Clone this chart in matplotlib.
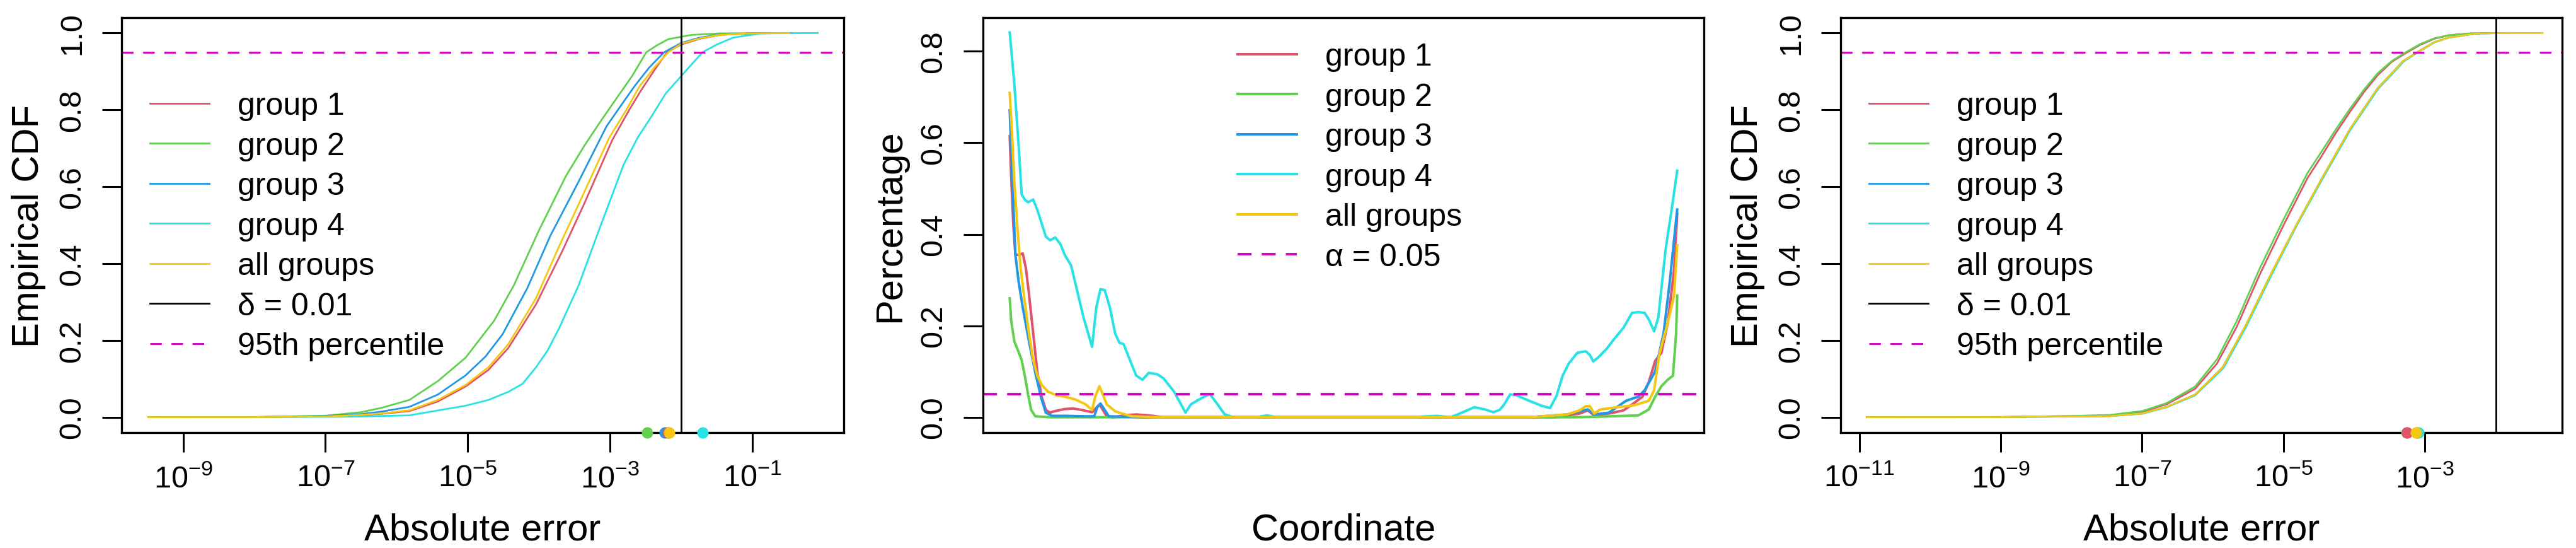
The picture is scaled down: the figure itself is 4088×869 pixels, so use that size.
import numpy as np
import matplotlib
matplotlib.use("Agg")
import matplotlib.pyplot as plt

plt.rcParams['font.family'] = ['Liberation Sans', 'DejaVu Sans']
plt.rcParams['mathtext.default'] = 'regular'

# colours (R default palette)
col_g1 = '#DF536B'
col_g2 = '#61D04F'
col_g3 = '#2297E6'
col_g4 = '#28E2E5'
col_all = '#F5C710'
col_ref = '#CD0BBC'

labels = ['group 1', 'group 2', 'group 3', 'group 4', 'all groups']

# ---------------- panel 1: ECDF of absolute error (log10 x) ----------------
p1_g1_x = [-9.49, -8.0, -7.0, -6.5, -6.2, -5.82, -5.42, -5.03, -4.71, -4.43, -4.04, -3.68, -3.36, -2.97,
           -2.73, -2.57, -2.37, -2.20, -2.0, -1.74, -1.46, -1.07, -0.44]
p1_g1_y = [0, 0.0002, 0.002, 0.005, 0.009, 0.016, 0.041, 0.080, 0.123, 0.180, 0.294, 0.429, 0.557, 0.721,
           0.80, 0.849, 0.905, 0.95, 0.97, 0.985, 0.995, 0.999, 1.0]
p1_g2_x = [-9.49, -8.0, -7.0, -6.5, -6.2, -5.82, -5.42, -5.03, -4.63, -4.35, -4.0, -3.62, -3.36, -3.13,
           -2.89, -2.69, -2.49, -2.34, -2.18, -1.86, -1.46, -0.7]
p1_g2_y = [0, 0.0005, 0.004, 0.013, 0.025, 0.045, 0.094, 0.155, 0.251, 0.344, 0.486, 0.628, 0.707, 0.771,
           0.835, 0.888, 0.95, 0.968, 0.984, 0.995, 0.999, 1.0]
p1_g3_x = [-9.49, -8.0, -7.0, -6.5, -6.2, -5.82, -5.42, -5.03, -4.75, -4.51, -4.16, -3.84, -3.44, -3.05,
           -2.81, -2.65, -2.45, -2.24, -2.0, -1.74, -1.46, -0.87, -0.6]
p1_g3_y = [0, 0.0003, 0.003, 0.008, 0.015, 0.027, 0.059, 0.109, 0.158, 0.216, 0.337, 0.472, 0.614, 0.757,
           0.821, 0.863, 0.91, 0.95, 0.974, 0.988, 0.996, 0.9995, 1.0]
p1_g4_x = [-9.49, -8.0, -7.0, -6.5, -6.0, -5.82, -5.03, -4.71, -4.43, -4.23, -4.04, -3.88, -3.72, -3.44,
           -3.13, -2.81, -2.61, -2.41, -2.22, -2.0, -1.86, -1.70, -1.50, -1.27, -0.87, -0.08]
p1_g4_y = [0, 0.0001, 0.001, 0.002, 0.004, 0.005, 0.03, 0.045, 0.066, 0.087, 0.13, 0.173, 0.23, 0.344,
           0.5, 0.657, 0.728, 0.785, 0.842, 0.888, 0.917, 0.95, 0.97, 0.988, 0.999, 1.0]
p1_all_x = [-9.49, -8.0, -7.0, -6.5, -6.2, -5.82, -5.42, -5.03, -4.71, -4.43, -4.04, -3.72, -3.40, -3.01,
            -2.77, -2.59, -2.38, -2.18, -2.0, -1.74, -1.46, -1.07, -0.48]
p1_all_y = [0, 0.0002, 0.002, 0.006, 0.01, 0.018, 0.045, 0.084, 0.13, 0.19, 0.31, 0.443, 0.571, 0.728,
            0.80, 0.86, 0.91, 0.95, 0.972, 0.986, 0.995, 0.999, 1.0]
# 95th percentiles (log10), in drawing order green, blue, red, cyan, yellow
p1_q95 = [-2.48, -2.23, -2.19, -1.70, -2.165]

# ---------------- panel 2: percentage by coordinate ----------------
p2_g1_x = [0, 2.2, 5.3, 8.5, 13.2, 19.5, 24.2, 28.9, 35.2, 41.5, 47.8, 54.1, 60.4, 66.7, 82.4, 95, 107.6,
           123.4, 128, 134.4, 140, 145.4, 155, 177, 190, 208, 230, 780, 815.9, 834.8, 853.6, 866.2, 875.6,
           897.6, 919.7, 935.4, 948.1, 957.5, 967, 976.4, 985.8, 995.3, 1000]
p2_g1_y = [0.614, 0.528, 0.424, 0.355, 0.355, 0.358, 0.326, 0.269, 0.183, 0.097, 0.045, 0.016, 0.010, 0.013,
           0.018, 0.019, 0.016, 0.011, 0.018, 0.028, 0.015, 0.002, 0.0, 0.005, 0.006, 0.004, 0.0, 0.0, 0.0,
           0.004, 0.008, 0.015, 0.004, 0.008, 0.015, 0.031, 0.045, 0.077, 0.123, 0.141, 0.206, 0.321, 0.445]
p2_g2_x = [0, 2.2, 6.9, 13.2, 17.9, 22.6, 27.4, 32.1, 38.4, 60, 847, 878.6, 941.7, 957.5, 967, 976.4,
           985.8, 993.7, 998.4, 1000]
p2_g2_y = [0.260, 0.211, 0.166, 0.143, 0.125, 0.091, 0.051, 0.016, 0.002, 0.0, 0.0, 0.001, 0.004, 0.017,
           0.045, 0.068, 0.082, 0.091, 0.183, 0.266]
p2_g3_x = [0, 3.7, 8.5, 13.2, 19.5, 28.9, 38.4, 47.8, 54.1, 63.5, 82.4, 113.9, 126.5, 131.2, 136, 142.3,
           148.6, 200, 780, 834.8, 853.6, 866.2, 875.6, 897.6, 923.5, 941.7, 951.2, 967, 979.6, 989, 1000]
p2_g3_y = [0.671, 0.528, 0.355, 0.298, 0.240, 0.166, 0.097, 0.039, 0.010, 0.003, 0.003, 0.002, 0.002, 0.022,
           0.030, 0.016, 0.002, 0.0, 0.0, 0.006, 0.013, 0.017, 0.006, 0.010, 0.036, 0.045, 0.059, 0.100,
           0.183, 0.298, 0.454]
p2_g4_x = [0, 6.9, 13.2, 17.9, 22.6, 27.4, 35.2, 41.5, 54.1, 60.4, 68.3, 76.1, 82.4, 91.9, 101.3, 110.8,
           123.4, 129.7, 136, 142.3, 150.1, 158, 164.3, 170.6, 180.1, 189.5, 198.9, 208.3, 221, 230.4, 246.2,
           263.4, 271.3, 283.9, 299.6, 309, 321.7, 334.3, 370, 385, 400, 420, 600, 640, 660, 674.2, 696.2,
           712, 724.6, 734, 740.3, 749.8, 759.2, 778.1, 797, 809.5, 819, 828.4, 837.9, 850.4, 863.1, 869.3,
           874.1, 882, 894.5, 904, 919.7, 932.3, 941.7, 951.2, 957.5, 965.4, 971.7, 982.7, 992.2, 1000]
p2_g4_y = [0.841, 0.729, 0.597, 0.487, 0.476, 0.470, 0.476, 0.453, 0.395, 0.387, 0.393, 0.378, 0.355, 0.332,
           0.275, 0.217, 0.154, 0.240, 0.280, 0.278, 0.240, 0.183, 0.163, 0.160, 0.125, 0.091, 0.082, 0.097,
           0.094, 0.085, 0.056, 0.010, 0.028, 0.039, 0.051, 0.033, 0.007, 0.0, 0.0, 0.004, 0.0, 0.0, 0.0,
           0.003, 0.0, 0.008, 0.022, 0.017, 0.011, 0.016, 0.027, 0.05, 0.048, 0.036, 0.025, 0.02, 0.046,
           0.091, 0.118, 0.141, 0.144, 0.136, 0.122, 0.131, 0.150, 0.168, 0.196, 0.228, 0.23, 0.228, 0.214,
           0.188, 0.218, 0.367, 0.459, 0.539]
p2_all_x = [0, 3.7, 6.9, 11.6, 16.3, 22.6, 28.9, 35.2, 41.5, 47.8, 57.2, 69.8, 82.4, 98.1, 113.9, 123.4,
            128.1, 134.4, 139.1, 145.4, 158, 170.6, 183.2, 220, 780, 834.8, 853.6, 863.1, 869.3, 875.6,
            884.9, 910.3, 935.4, 957.5, 965.4, 973.3, 985.8, 995.3, 1000]
p2_all_y = [0.709, 0.614, 0.516, 0.413, 0.326, 0.252, 0.183, 0.125, 0.091, 0.071, 0.056, 0.048, 0.045, 0.039,
            0.028, 0.016, 0.045, 0.068, 0.051, 0.028, 0.013, 0.007, 0.002, 0.0, 0.0, 0.006, 0.015, 0.024,
            0.024, 0.008, 0.017, 0.022, 0.026, 0.036, 0.059, 0.138, 0.206, 0.266, 0.376]

# ---------------- panel 3: ECDF of absolute error (log10 x) ----------------
p3_g1_x = [-10.89, -9.0, -8.0, -7.45, -7.0, -6.65, -6.25, -5.94, -5.66, -5.34, -5.0, -4.66, -4.46, -4.26,
           -4.06, -3.86, -3.67, -3.47, -3.25, -3.07, -2.87, -2.67, -2.35, -1.8]
p3_g1_y = [0, 0.0005, 0.003, 0.005, 0.014, 0.034, 0.074, 0.14, 0.236, 0.37, 0.5, 0.623, 0.68, 0.74,
           0.795, 0.847, 0.89, 0.925, 0.95, 0.969, 0.985, 0.994, 0.999, 1.0]
p3_g2_x = [-10.89, -9.0, -8.0, -7.45, -7.0, -6.65, -6.25, -5.94, -5.66, -5.34, -5.0, -4.66, -4.46, -4.26,
           -4.06, -3.86, -3.67, -3.47, -3.27, -3.07, -2.87, -2.67, -2.35, -1.87]
p3_g2_y = [0, 0.0005, 0.003, 0.006, 0.016, 0.037, 0.08, 0.151, 0.251, 0.386, 0.515, 0.636, 0.692, 0.749,
           0.803, 0.853, 0.895, 0.927, 0.95, 0.971, 0.986, 0.994, 0.999, 1.0]
p3_g3_x = [-10.89, -9.0, -8.0, -7.45, -7.0, -6.65, -6.25, -5.86, -5.54, -5.18, -4.82, -4.46, -4.06, -3.67,
           -3.47, -3.31, -3.11, -2.87, -2.67, -2.27, -1.87]
p3_g3_y = [0, 0.0003, 0.002, 0.003, 0.01, 0.027, 0.059, 0.13, 0.237, 0.372, 0.5, 0.621, 0.75, 0.856,
           0.895, 0.927, 0.95, 0.976, 0.988, 0.999, 1.0]
p3_g4_x = [-10.89, -9.0, -8.0, -7.45, -7.0, -6.65, -6.25, -5.85, -5.53, -5.17, -4.81, -4.45, -4.05, -3.66,
           -3.46, -3.30, -3.10, -2.86, -2.66, -2.26, -1.8]
p3_g4_y = [0, 0.0003, 0.002, 0.003, 0.009, 0.026, 0.057, 0.128, 0.235, 0.37, 0.5, 0.62, 0.749, 0.855,
           0.894, 0.926, 0.95, 0.976, 0.988, 0.999, 1.0]
p3_all_x = [-10.89, -9.0, -8.0, -7.45, -7.0, -6.65, -6.25, -5.86, -5.54, -5.18, -4.82, -4.46, -4.06, -3.67,
            -3.47, -3.31, -3.11, -2.87, -2.67, -2.27, -1.87, -1.335]
p3_all_y = [0, 0.0003, 0.002, 0.003, 0.01, 0.027, 0.059, 0.13, 0.237, 0.372, 0.5, 0.621, 0.75, 0.856,
            0.895, 0.927, 0.95, 0.976, 0.988, 0.999, 0.9999, 1.0]
# order green, blue, red, cyan, yellow
p3_q95 = [-3.26, -3.12, -3.25, -3.09, -3.13]

delta = 0.01
pct = 0.95
alpha_level = 0.05

W, H = 4088, 870
fig = plt.figure(figsize=(W / 100, H / 100), dpi=100)


def rect(l, r, top=29, bot=687):
    return [l / W, (H - bot) / H, (r - l) / W, (bot - top) / H]


ax1 = fig.add_axes(rect(193, 1339))
ax2 = fig.add_axes(rect(1560, 2704))
ax3 = fig.add_axes(rect(2921, 4066))

tick_fs = 35
lab_fs = 43
leg_fs = 36


def style_axes(ax):
    for s in ax.spines.values():
        s.set_linewidth(2.4)
    ax.tick_params(axis='both', direction='out', length=22, width=2.2, labelsize=tick_fs)
    ax.tick_params(axis='y', pad=18, labelrotation=90)
    ax.tick_params(axis='x', pad=14)
    for lab in ax.get_yticklabels():
        lab.set_va('center')
    ax.xaxis.set_label_coords(0.5, -(857 - 687) / 658)
    ax.xaxis.label.set_va('baseline')
    ax.yaxis.set_label_coords(-120 / 1146, 0.5)


def ecdf_panel(ax, curves, q95, xlim, xticks):
    cols = [col_g1, col_g2, col_g3, col_g4, col_all]
    for (xs, ys), c, lb in zip(curves, cols, labels):
        ax.plot(10 ** np.array(xs), ys, color=c, lw=2.0, label=lb)
    ax.axvline(delta, color='black', lw=2.0, label='δ = 0.01')
    ax.axhline(pct, color=col_ref, lw=2.2, ls=(0, (6, 5)), label='95th percentile')
    dot_cols = [col_g2, col_g3, col_g1, col_g4, col_all]
    for q, c in zip(q95, dot_cols):
        ax.plot([10 ** q], [-0.04], 'o', color=c, ms=13, mec='none', clip_on=False, zorder=5)
    ax.set_xscale('log')
    ax.set_xlim(10 ** xlim[0], 10 ** xlim[1])
    ax.set_ylim(-0.04, 1.04)
    ax.set_xticks([10.0 ** e for e in xticks], [r'$10^{%d}$' % e for e in xticks])
    ax.minorticks_off()
    ax.set_yticks([0, 0.2, 0.4, 0.6, 0.8, 1.0], ['0.0', '0.2', '0.4', '0.6', '0.8', '1.0'])
    ax.set_xlabel('Absolute error', fontsize=lab_fs)
    ax.set_ylabel('Empirical CDF', fontsize=lab_fs)
    style_axes(ax)
    ax.legend(loc='upper left', bbox_to_anchor=(45 / 1146, 0.822), borderaxespad=0, borderpad=0,
              frameon=False, fontsize=leg_fs, handlelength=1.88, handletextpad=0.9, labelspacing=0.35)


ecdf_panel(ax1,
           [(p1_g1_x, p1_g1_y), (p1_g2_x, p1_g2_y), (p1_g3_x, p1_g3_y), (p1_g4_x, p1_g4_y), (p1_all_x, p1_all_y)],
           p1_q95, (-9.865, 0.285), [-9, -7, -5, -3, -1])
ecdf_panel(ax3,
           [(p3_g1_x, p3_g1_y), (p3_g2_x, p3_g2_y), (p3_g3_x, p3_g3_y), (p3_g4_x, p3_g4_y), (p3_all_x, p3_all_y)],
           p3_q95, (-11.264, -1.06), [-11, -9, -7, -5, -3])

# middle panel
for xs, ys, c, lb in zip([p2_g1_x, p2_g2_x, p2_g3_x, p2_g4_x, p2_all_x],
                         [p2_g1_y, p2_g2_y, p2_g3_y, p2_g4_y, p2_all_y],
                         [col_g1, col_g2, col_g3, col_g4, col_all], labels):
    ax2.plot(xs, ys, color=c, lw=2.9, label=lb)
ax2.axhline(alpha_level, color=col_ref, lw=2.9, ls=(0, (5.5, 4)), label='α = 0.05')
ax2.set_xlim(-40, 1040)
ax2.set_ylim(-0.0336, 0.8736)
ax2.set_xticks([])
ax2.set_yticks([0, 0.2, 0.4, 0.6, 0.8], ['0.0', '0.2', '0.4', '0.6', '0.8'])
ax2.set_xlabel('Coordinate', fontsize=lab_fs)
ax2.set_ylabel('Percentage', fontsize=lab_fs)
style_axes(ax2)
ax2.yaxis.set_label_coords(-120 / 1144, 0.5)
ax2.legend(loc='upper left', bbox_to_anchor=(404 / 1144, 0.94), borderaxespad=0, borderpad=0,
           frameon=False, fontsize=leg_fs, handlelength=1.88, handletextpad=0.9, labelspacing=0.35)

fig.savefig('out.png', dpi=100)
